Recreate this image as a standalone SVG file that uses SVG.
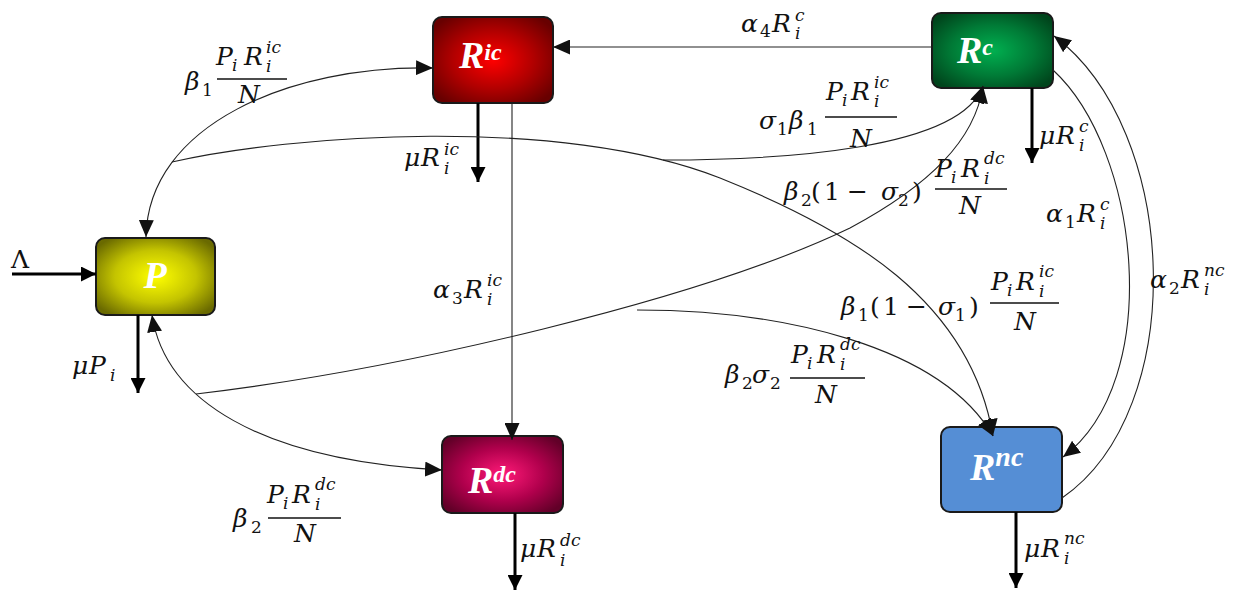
<svg xmlns="http://www.w3.org/2000/svg" width="1245" height="594" viewBox="0 0 1245 594">
<style>
.thin{fill:none;stroke:#222;stroke-width:1.1}
.thick{fill:none;stroke:#000;stroke-width:3}
.box{stroke:#1a1a1a;stroke-width:2}
.lbl{font-family:"Liberation Serif",serif;font-weight:bold;font-style:italic;fill:#fff}
.m{font-family:"DejaVu Serif",serif;font-style:italic;font-size:25px;fill:#111}
.s{font-size:17px}
.up{font-style:normal}
.bar{stroke:#111;stroke-width:1.3}
</style>
<defs>
<marker id="a" viewBox="0 0 17 15" refX="17" refY="7.5" markerWidth="17" markerHeight="15" markerUnits="userSpaceOnUse" orient="auto-start-reverse"><path d="M0,0 L17,7.5 L0,15z" fill="#111"/></marker>
<marker id="b" viewBox="0 0 15 15" refX="15" refY="7.5" markerWidth="15" markerHeight="15" markerUnits="userSpaceOnUse" orient="auto"><path d="M0,0 L15,7.5 L0,15z" fill="#000"/></marker>
<radialGradient id="gP" cx="0.5" cy="0.5" r="0.62"><stop offset="0" stop-color="#ffff00"/><stop offset="0.55" stop-color="#c4c400"/><stop offset="1" stop-color="#6a6a00"/></radialGradient>
<radialGradient id="gIC" cx="0.5" cy="0.5" r="0.62"><stop offset="0" stop-color="#ff0000"/><stop offset="0.55" stop-color="#b00000"/><stop offset="1" stop-color="#680000"/></radialGradient>
<radialGradient id="gC" cx="0.5" cy="0.5" r="0.62"><stop offset="0" stop-color="#00b050"/><stop offset="0.55" stop-color="#007a36"/><stop offset="1" stop-color="#00451c"/></radialGradient>
<radialGradient id="gDC" cx="0.5" cy="0.5" r="0.62"><stop offset="0" stop-color="#ff1a78"/><stop offset="0.55" stop-color="#b0004c"/><stop offset="1" stop-color="#620028"/></radialGradient>
</defs>
<rect width="1245" height="594" fill="#fff"/>

<g id="node-P"><rect class="box" x="96" y="238" width="119" height="77" rx="9" fill="url(#gP)"/><text class="lbl" x="155" y="288" font-size="38" text-anchor="middle">P</text></g>
<g id="node-Ric"><rect class="box" x="433" y="17" width="120" height="86" rx="9" fill="url(#gIC)"/><text class="lbl" x="459" y="68" font-size="38">R<tspan y="60" font-size="24">ic</tspan></text></g>
<g id="node-Rc"><rect class="box" x="932" y="13" width="121" height="75" rx="9" fill="url(#gC)"/><text class="lbl" x="957" y="63" font-size="38">R<tspan y="55" font-size="24">c</tspan></text></g>
<g id="node-Rdc"><rect class="box" x="442" y="436" width="121" height="77" rx="9" fill="url(#gDC)"/><text class="lbl" x="468" y="493" font-size="38">R<tspan y="482" font-size="24">dc</tspan></text></g>
<g id="node-Rnc"><rect class="box" x="941" y="427" width="121" height="85" rx="9" fill="#558ed5"/><text class="lbl" x="970" y="480" font-size="38">R<tspan y="466" font-size="28">nc</tspan></text></g>

<g id="connectors">
<path class="thick" d="M12,274 L96,274" marker-end="url(#b)"/>
<path class="thick" d="M138,315 L138,393" marker-end="url(#b)"/>
<path class="thick" d="M478,103 L478,182" marker-end="url(#b)"/>
<path class="thick" d="M1032,88 L1032,163" marker-end="url(#b)"/>
<path class="thick" d="M515,513 L515,590" marker-end="url(#b)"/>
<path class="thick" d="M1016,512 L1016,588" marker-end="url(#b)"/>
<path class="thin" d="M146,237 C148,125 290,65 433,68" marker-start="url(#a)" marker-end="url(#a)"/>
<path class="thin" d="M152,315 C165,400 260,460 442,470" marker-start="url(#a)" marker-end="url(#a)"/>
<path class="thin" d="M172,162 C290,135 560,115 720,178 C850,230 970,300 993,436" marker-end="url(#a)"/>
<path class="thin" d="M663,160 C780,160 960,150 983,86" marker-end="url(#a)"/>
<path class="thin" d="M196,394 C400,370 700,300 850,228 C930,185 975,140 983,86" marker-end="url(#a)"/>
<path class="thin" d="M637,310 C780,310 940,345 993,436" marker-end="url(#a)"/>
<path class="thin" d="M932,47 L553,47" marker-end="url(#a)"/>
<path class="thin" d="M512,103 L512,440" marker-end="url(#a)"/>
<path class="thin" d="M1053,70 C1140,150 1165,380 1063,457" marker-end="url(#a)"/>
<path class="thin" d="M1062,498 C1190,410 1180,130 1054,36" marker-end="url(#a)"/>
</g>

<g id="labels">
<text class="m" x="11" y="268"><tspan class="up">Λ</tspan></text>
<text class="m"><tspan x="72" y="374">μ</tspan><tspan x="89" y="374">P</tspan><tspan class="s" x="110" y="381">i</tspan></text>

<text class="m"><tspan x="185" y="90">β</tspan><tspan class="s up" x="202" y="96">1</tspan><tspan x="216" y="65">P</tspan><tspan class="s" x="232" y="71">i</tspan><tspan x="244" y="65">R</tspan><tspan class="s" x="266" y="53">ic</tspan><tspan class="s" x="266" y="72">i</tspan><tspan x="238" y="103">N</tspan></text>
<line class="bar" x1="217" y1="79" x2="287" y2="79"/>

<text class="m"><tspan x="404" y="166">μ</tspan><tspan x="421" y="166">R</tspan><tspan class="s" x="444" y="155">ic</tspan><tspan class="s" x="444" y="174">i</tspan></text>

<text class="m"><tspan x="741" y="32">α</tspan><tspan class="s up" x="760" y="37">4</tspan><tspan x="772" y="32">R</tspan><tspan class="s" x="795" y="21">c</tspan><tspan class="s" x="795" y="39">i</tspan></text>

<text class="m"><tspan x="759" y="129">σ</tspan><tspan class="s up" x="777" y="135">1</tspan><tspan x="789" y="129">β</tspan><tspan class="s up" x="807" y="135">1</tspan><tspan x="826" y="100">P</tspan><tspan class="s" x="842" y="106">i</tspan><tspan x="851" y="100">R</tspan><tspan class="s" x="874" y="88">ic</tspan><tspan class="s" x="874" y="107">i</tspan><tspan x="850" y="147">N</tspan></text>
<line class="bar" x1="825" y1="117" x2="897" y2="117"/>

<text class="m"><tspan x="1039" y="144">μ</tspan><tspan x="1056" y="144">R</tspan><tspan class="s" x="1079" y="132">c</tspan><tspan class="s" x="1079" y="151">i</tspan></text>

<text class="m"><tspan x="784" y="200">β</tspan><tspan class="s up" x="801" y="206">2</tspan><tspan class="up" x="811" y="200">(</tspan><tspan class="up" x="824" y="200">1</tspan><tspan class="up" x="847" y="200">−</tspan><tspan x="881" y="200">σ</tspan><tspan class="s up" x="898" y="206">2</tspan><tspan class="up" x="912" y="200">)</tspan><tspan x="935" y="177">P</tspan><tspan class="s" x="951" y="183">i</tspan><tspan x="961" y="177">R</tspan><tspan class="s" x="984" y="164">dc</tspan><tspan class="s" x="984" y="184">i</tspan><tspan x="959" y="214">N</tspan></text>
<line class="bar" x1="935" y1="189" x2="1007" y2="189"/>

<text class="m"><tspan x="1046" y="222">α</tspan><tspan class="s up" x="1065" y="228">1</tspan><tspan x="1077" y="222">R</tspan><tspan class="s" x="1100" y="210">c</tspan><tspan class="s" x="1100" y="229">i</tspan></text>

<text class="m"><tspan x="1150" y="288">α</tspan><tspan class="s up" x="1169" y="294">2</tspan><tspan x="1181" y="288">R</tspan><tspan class="s" x="1204" y="276">nc</tspan><tspan class="s" x="1204" y="295">i</tspan></text>

<text class="m"><tspan x="433" y="298">α</tspan><tspan class="s up" x="452" y="304">3</tspan><tspan x="464" y="298">R</tspan><tspan class="s" x="487" y="286">ic</tspan><tspan class="s" x="487" y="305">i</tspan></text>

<text class="m"><tspan x="841" y="315">β</tspan><tspan class="s up" x="858" y="321">1</tspan><tspan class="up" x="870" y="315">(</tspan><tspan class="up" x="883" y="315">1</tspan><tspan class="up" x="906" y="315">−</tspan><tspan x="938" y="315">σ</tspan><tspan class="s up" x="955" y="321">1</tspan><tspan class="up" x="969" y="315">)</tspan><tspan x="991" y="290">P</tspan><tspan class="s" x="1007" y="296">i</tspan><tspan x="1016" y="290">R</tspan><tspan class="s" x="1039" y="277">ic</tspan><tspan class="s" x="1039" y="297">i</tspan><tspan x="1014" y="330">N</tspan></text>
<line class="bar" x1="990" y1="303" x2="1059" y2="303"/>

<text class="m"><tspan x="725" y="383">β</tspan><tspan class="s up" x="742" y="389">2</tspan><tspan x="752" y="383">σ</tspan><tspan class="s up" x="770" y="389">2</tspan><tspan x="791" y="363">P</tspan><tspan class="s" x="807" y="369">i</tspan><tspan x="817" y="363">R</tspan><tspan class="s" x="840" y="350">dc</tspan><tspan class="s" x="840" y="370">i</tspan><tspan x="815" y="403">N</tspan></text>
<line class="bar" x1="790" y1="378" x2="865" y2="378"/>

<text class="m"><tspan x="233" y="527">β</tspan><tspan class="s up" x="251" y="533">2</tspan><tspan x="267" y="503">P</tspan><tspan class="s" x="283" y="509">i</tspan><tspan x="292" y="503">R</tspan><tspan class="s" x="315" y="490">dc</tspan><tspan class="s" x="315" y="510">i</tspan><tspan x="294" y="542">N</tspan></text>
<line class="bar" x1="268" y1="518" x2="341" y2="518"/>

<text class="m"><tspan x="520" y="557">μ</tspan><tspan x="537" y="557">R</tspan><tspan class="s" x="560" y="546">dc</tspan><tspan class="s" x="560" y="566">i</tspan></text>

<text class="m"><tspan x="1024" y="557">μ</tspan><tspan x="1041" y="557">R</tspan><tspan class="s" x="1064" y="544">nc</tspan><tspan class="s" x="1064" y="564">i</tspan></text>
</g>
</svg>
